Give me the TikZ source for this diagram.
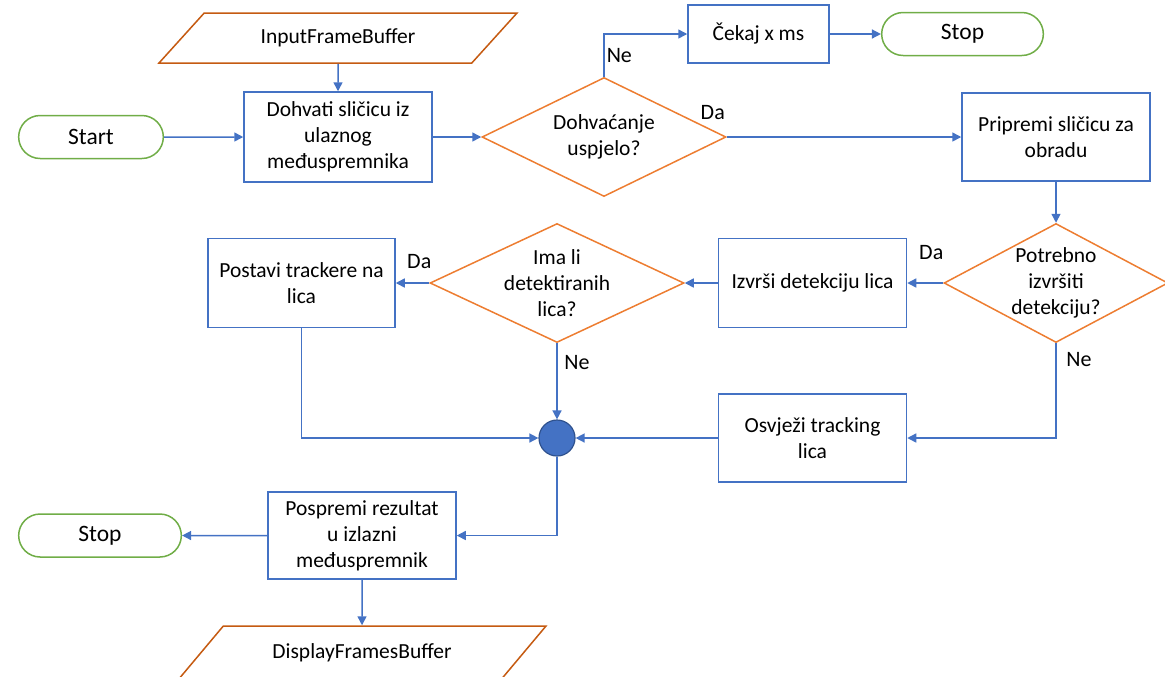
\documentclass[tikz,border=0pt]{standalone}
\usepackage{fontspec}
\setmainfont{Carlito}
\usepackage{xcolor}
\usetikzlibrary{shapes,shapes.geometric,shapes.misc,arrows.meta,positioning,calc}

\definecolor{flowblue}{HTML}{4472C4}
\definecolor{darkblue}{HTML}{2F528F}
\definecolor{decorange}{HTML}{ED7D31}
\definecolor{iobrown}{HTML}{C55A11}
\definecolor{termgreen}{HTML}{70AD47}

\begin{document}
\begin{tikzpicture}[
    x=0.5pt, y=-0.5pt,
    font=\fontsize{10.75}{13}\selectfont,
    box/.style={rectangle, draw=flowblue, line width=0.75pt, align=center, inner sep=2pt},
    decision/.style={diamond, draw=decorange, line width=0.75pt, minimum height=59.5pt, inner sep=0pt},
    terminal/.style={rounded rectangle, draw=termgreen, line width=0.75pt, minimum height=21.5pt, font=\fontsize{11.75}{14}\selectfont},
    buffer/.style={trapezium, trapezium left angle=35, trapezium right angle=145, trapezium stretches body, draw=iobrown, line width=0.75pt},
    junction/.style={circle, fill=flowblue, draw=darkblue, line width=0.6pt, minimum size=18pt, inner sep=0pt},
    flow/.style={-{Triangle[length=4.5pt, width=4.5pt]}, draw=flowblue, line width=0.75pt},
    answer/.style={font=\fontsize{11}{13}\selectfont, inner sep=0pt}
]
    \useasboundingbox (0,0) rectangle (1165,676);
    \clip (0,0) rectangle (1165,676);

    % Top row
    \node[buffer, minimum width=179pt, minimum height=25pt] (ifb) at (338,38) {InputFrameBuffer};
    \node[terminal, minimum width=79pt] (start) at (91,137) {Start};
    \node[box, minimum width=94pt, minimum height=45pt] (fetch) at (338,137) {Dohvati sličicu iz\\ulaznog\\međuspremnika};
    \node[decision, minimum width=122pt, label={[align=center]center:{Dohvaćanje\\uspjelo?}}] (fetchok) at (604,137) {};
    \node[box, minimum width=70.5pt, minimum height=29pt] (wait) at (758.5,34) {Čekaj x ms};
    \node[terminal, minimum width=87.5pt] (stopwait) at (962.5,34) {Stop};
    \node[box, minimum width=94pt, minimum height=44pt] (prepare) at (1056,137) {Pripremi sličicu za\\obradu};

    % Middle row
    \node[decision, minimum width=112pt, label={[align=center]center:{Potrebno\\izvršiti\\detekciju?}}] (needdet) at (1056,283) {};
    \node[box, minimum width=94pt, minimum height=44.5pt] (detect) at (812.5,283) {Izvrši detekciju lica};
    \node[decision, minimum width=127pt, label={[align=center]center:{Ima li\\detektiranih\\lica?}}] (anyface) at (557,283) {};
    \node[box, minimum width=93.5pt, minimum height=44.5pt] (settrack) at (301.5,283) {Postavi trackere na\\lica};

    % Lower rows
    \node[junction] (merge) at (557,438) {};
    \node[box, minimum width=94pt, minimum height=44pt] (refresh) at (812.5,438) {Osvježi tracking\\lica};
    \node[box, minimum width=94pt, minimum height=43.5pt] (store) at (362,535.5) {Pospremi rezultat\\u izlazni\\međuspremnik};
    \node[terminal, minimum width=88pt] (stopend) at (100,535.5) {Stop};
    \node[buffer, minimum width=184pt, minimum height=27pt] (dfb) at (362,653) {DisplayFramesBuffer};

    % Connectors
    \draw[flow] (ifb) -- (fetch);
    \draw[flow] (start) -- (fetch);
    \draw[flow] (fetch) -- (fetchok);
    \draw[flow] (fetchok) |- node[answer, pos=0.25, right=1pt] {Ne} (wait);
    \draw[flow] (wait) -- (stopwait);
    \draw[flow] (fetchok) -- node[answer, pos=0, xshift=-7pt, yshift=12pt] {Da} (prepare);
    \draw[flow] (prepare) -- (needdet);
    \draw[flow] (needdet) -- node[answer, pos=0, xshift=-6pt, yshift=15pt] {Da} (detect);
    \draw[flow] (detect) -- (anyface);
    \draw[flow] (anyface) -- node[answer, pos=0, xshift=-5pt, yshift=10.5pt] {Da} (settrack);
    \draw[flow] (anyface) -- node[answer, pos=0, xshift=10pt, yshift=-9.5pt] {Ne} (merge);
    \draw[flow] (needdet) |- node[answer, pos=0, xshift=11.5pt, yshift=-8pt] {Ne} (refresh);
    \draw[flow] (settrack) |- (merge);
    \draw[flow] (refresh) -- (merge);
    \draw[flow] (merge) |- (store);
    \draw[flow] (store) -- (stopend);
    \draw[flow] (store) -- (dfb);
\end{tikzpicture}
\end{document}
